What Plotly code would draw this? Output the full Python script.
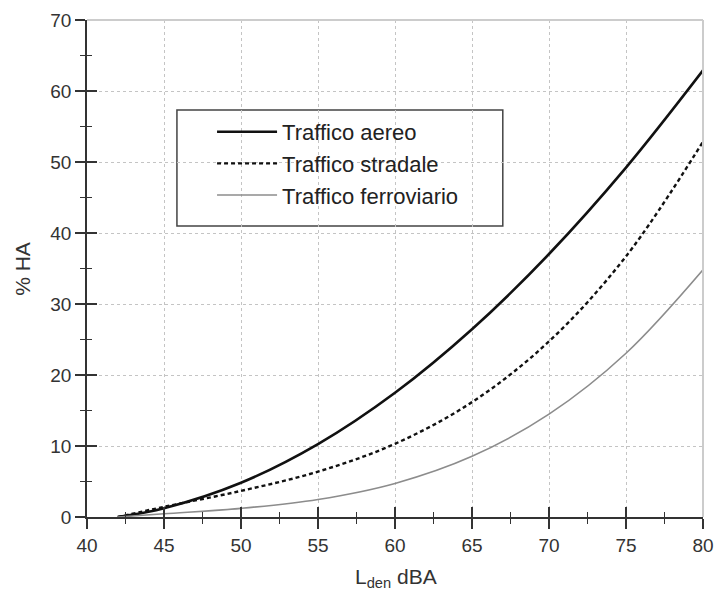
import plotly.graph_objects as go

# Values
lden = [42, 45, 50, 55, 60, 65, 70, 75, 80]
ha_aereo = [0.0, 1.23, 4.82, 10.26, 17.49, 26.44, 37.04, 49.21, 62.90]
ha_stradale = [0.0, 1.43, 3.68, 6.39, 10.31, 16.18, 24.73, 36.71, 52.86]
ha_ferroviario = [0.0, 0.46, 1.22, 2.47, 4.73, 8.55, 14.48, 23.06, 34.82]

x_ticks = [40, 45, 50, 55, 60, 65, 70, 75, 80]
y_ticks = [0, 10, 20, 30, 40, 50, 60, 70]
x_minor = [42.5, 47.5, 52.5, 57.5, 62.5, 67.5, 72.5, 77.5]
y_minor = [5, 15, 25, 35, 45, 55, 65]

names = ["Traffico aereo", "Traffico stradale", "Traffico ferroviario"]
x_title = "L<sub>den</sub> dBA"
y_title = "% HA"

FONT = "Liberation Sans, Arial, sans-serif"
AX = "#333333"

fig = go.Figure()
fig.add_trace(go.Scatter(x=lden, y=ha_aereo, name=names[0], mode="lines",
                         line=dict(color="#111111", width=2.6, shape="spline")))
fig.add_trace(go.Scatter(x=lden, y=ha_stradale, name=names[1], mode="lines",
                         line=dict(color="#111111", width=2.4, dash="4px,3px", shape="spline")))
fig.add_trace(go.Scatter(x=lden, y=ha_ferroviario, name=names[2], mode="lines",
                         line=dict(color="#8c8c8c", width=1.6, shape="spline")))
# dummy trace for the overlay axes (inner half of crossing ticks)
fig.add_trace(go.Scatter(x=[None], y=[None], xaxis="x2", yaxis="y2",
                         showlegend=False, hoverinfo="skip"))

common = dict(showline=False, zeroline=False, automargin=False)
fig.update_layout(
    width=714, height=599,
    margin=dict(l=87, r=11, t=20, b=82),
    paper_bgcolor="white", plot_bgcolor="white",
    font=dict(family=FONT, color=AX),
    showlegend=True,
    xaxis=dict(range=[40, 80], tickvals=x_ticks, ticks="outside", ticklen=10,
               tickwidth=1.5, tickcolor=AX, showline=True, linecolor=AX, linewidth=1.5,
               showgrid=True, gridcolor="#c4c4c4", griddash="dot", gridwidth=1,
               zeroline=False, automargin=False, ticklabeloverflow="allow",
               tickfont=dict(size=19, color=AX),
               minor=dict(tickvals=x_minor, ticks="outside", ticklen=5, tickwidth=1.2,
                          tickcolor=AX, showgrid=False)),
    yaxis=dict(range=[0, 70], tickvals=y_ticks, ticks="outside", ticklen=10,
               tickwidth=1.5, tickcolor=AX, showline=True, linecolor=AX, linewidth=1.5,
               showgrid=True, gridcolor="#c4c4c4", griddash="dot", gridwidth=1,
               zeroline=False, automargin=False, ticklabeloverflow="allow",
               tickfont=dict(size=19, color=AX),
               minor=dict(tickvals=y_minor, ticks="outside", ticklen=5, tickwidth=1.2,
                          tickcolor=AX, showgrid=False)),
    xaxis2=dict(range=[40, 80], overlaying="x", side="bottom", tickvals=x_ticks,
                ticks="inside", ticklen=10, tickwidth=1.5, tickcolor=AX,
                showticklabels=False, showgrid=False, **common,
                minor=dict(tickvals=x_minor, ticks="inside", ticklen=5, tickwidth=1.2,
                           tickcolor=AX, showgrid=False)),
    yaxis2=dict(range=[0, 70], overlaying="y", side="left", tickvals=y_ticks,
                ticks="inside", ticklen=10, tickwidth=1.5, tickcolor=AX,
                showticklabels=False, showgrid=False, **common,
                minor=dict(tickvals=y_minor, ticks="inside", ticklen=5, tickwidth=1.2,
                           tickcolor=AX, showgrid=False)),
    legend=dict(x=0.203, y=0.817, xanchor="left", yanchor="top",
                bgcolor="rgba(0,0,0,0)", borderwidth=0,
                font=dict(size=22, color="#222222", family=FONT),
                itemwidth=60, traceorder="normal"),
    annotations=[
        dict(text=x_title, xref="paper", yref="paper", x=0.501, y=-0.122,
             xanchor="center", yanchor="middle", showarrow=False,
             font=dict(size=21, color=AX, family=FONT)),
        dict(text=y_title, xref="paper", yref="paper", x=-0.105, y=0.5,
             xanchor="center", yanchor="middle", showarrow=False, textangle=-90,
             font=dict(size=21, color=AX, family=FONT)),
    ],
    shapes=[
        # top and right light frame
        dict(type="line", xref="paper", yref="paper", x0=0, x1=1, y0=1, y1=1,
             line=dict(color="#cccccc", width=2)),
        dict(type="line", xref="paper", yref="paper", x0=1, x1=1, y0=0, y1=1,
             line=dict(color="#cccccc", width=2)),
        # legend box
        dict(type="rect", xref="paper", yref="paper", x0=0.146, x1=0.675, y0=0.5855, y1=0.819,
             line=dict(color="#444444", width=1.5), fillcolor="white", layer="below"),
    ],
)

# remove the default 8px page margin so the figure fills the window exactly
fig.write_html("out.html", config={"displayModeBar": False},
               post_script="document.body.style.margin='0';")
